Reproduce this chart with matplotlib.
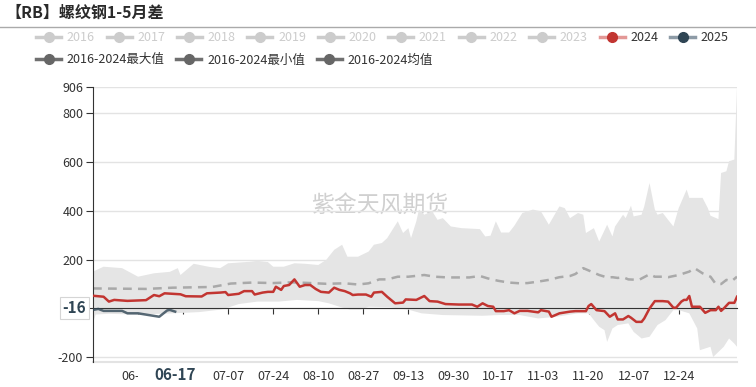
#!/usr/bin/env python3

import pandas as pd
import matplotlib as mp
mp.use('Agg')

from matplotlib import pyplot as plt
from matplotlib.lines import Line2D
from matplotlib.patches import Rectangle


########
# Data #
########

START = '2024-05-17'  # day 0 of the x axis

band_max_days = [0, 4, 11, 17, 23, 29, 32, 33, 38, 44, 48, 51, 55, 59, 62,
                 66, 68, 72, 76, 80, 85, 88, 91, 94, 96, 100, 104, 106, 109,
                 111, 115, 117, 119, 120, 122, 123, 125, 128, 130, 132, 135,
                 139, 146, 148, 150, 152, 154, 157, 159, 162, 166, 169, 172,
                 176, 178, 180, 183, 185, 186, 189, 191, 194, 196, 197, 200,
                 201, 203, 204, 207, 208, 210, 212, 213, 215, 217, 219, 221,
                 224, 225, 230, 232, 233, 236, 237, 239, 240, 242, 243]
band_max = [151, 171, 165, 130, 144, 150, 165, 137, 183, 170, 165, 185, 188,
            191, 195, 190, 171, 171, 185, 183, 178, 199, 240, 261, 212, 212,
            233, 261, 268, 288, 357, 309, 329, 288, 357, 405, 384, 398, 363,
            370, 336, 329, 325, 295, 298, 357, 311, 311, 339, 391, 405, 398,
            343, 418, 411, 370, 391, 384, 309, 329, 274, 343, 295, 336, 384,
            370, 421, 377, 384, 418, 514, 405, 384, 391, 363, 336, 411, 487,
            453, 453, 411, 380, 366, 555, 562, 603, 610, 906]

band_min_days = [0, 1, 6, 17, 30, 40, 48, 50, 55, 62, 70, 77, 85, 89, 93, 97,
                 101, 104, 112, 119, 124, 132, 147, 153, 161, 168, 175, 183,
                 187, 189, 191, 193, 194, 196, 198, 202, 204, 207, 210, 213,
                 216, 219, 221, 225, 228, 229, 233, 234, 236, 238, 240, 242,
                 243]
band_min = [-60, -25, -22, -25, -20, -15, -5, 0, 18, 28, 28, 35, 30, 21, 7,
            -5, -5, 7, 5, -5, -20, -27, -30, -27, -27, -41, -34, -20, -20,
            -48, -75, -89, -137, -82, -68, -61, -96, -123, -116, -68, -48,
            -7, -7, -20, -82, -171, -157, -199, -178, -157, -123, -144, -157]

mean_days = [0, 10, 20, 30, 45, 50, 52, 60, 68, 75, 80, 88, 95, 100, 104, 108,
             111, 115, 119, 125, 129, 134, 142, 146, 149, 153, 157, 161, 164,
             168, 172, 176, 180, 182, 185, 188, 191, 194, 196, 198, 200, 202,
             206, 210, 212, 215, 217, 221, 225, 227, 230, 233, 235, 237, 239,
             241, 243]
mean_vals = [82, 81, 80, 85, 88, 98, 102, 106, 104, 107, 105, 101, 103, 98,
             103, 119, 119, 130, 130, 137, 130, 127, 127, 133, 123, 113, 106,
             103, 104, 110, 117, 128, 133, 141, 165, 151, 137, 127, 128, 125,
             128, 119, 117, 140, 130, 130, 128, 137, 151, 165, 144, 130, 100,
             100, 117, 112, 130]

y2024_days = [0, 4, 6, 8, 13, 20, 23, 25, 27, 33, 35, 41, 43, 48, 50, 51, 55,
              57, 60, 61, 64, 66, 68, 69, 71, 72, 74, 76, 78, 80, 82, 84, 86,
              89, 91, 93, 95, 97, 98, 100, 103, 105, 106, 109, 111, 114, 117,
              118, 122, 125, 127, 130, 133, 138, 143, 145, 147, 149, 151, 152,
              155, 157, 159, 161, 164, 168, 169, 172, 173, 176, 180, 182, 186,
              187, 188, 190, 193, 195, 197, 198, 200, 202, 203, 205, 207, 208,
              210, 212, 215, 217, 219, 220, 222, 223, 224, 225, 226, 229, 231,
              233, 235, 236, 237, 238, 240, 242, 243]
y2024_vals = [52, 48, 28, 35, 31, 34, 55, 50, 62, 58, 50, 49, 62, 65, 67, 55,
              60, 71, 71, 57, 65, 68, 68, 89, 76, 92, 96, 119, 89, 96, 96, 80,
              68, 65, 85, 76, 71, 62, 55, 57, 57, 48, 65, 68, 48, 21, 24, 37,
              35, 51, 30, 28, 18, 16, 16, 7, 21, 10, 7, -11, -11, -7, -20, -10,
              -10, -16, -7, -13, -34, -20, -13, -11, -11, 10, 18, -7, -11, -34,
              -20, -45, -45, -31, -38, -55, -55, -41, 0, 30, 30, 28, 3, 3, 28,
              35, 35, 51, 7, 7, -18, -7, -7, 7, -10, 0, 23, 23, 48]

y2025_days = [0, 2, 4, 11, 13, 17, 21, 25, 28, 29, 31]
y2025_vals = [-6, -2, -10, -10, -20, -20, -27, -34, -8, -6, -13]

tick_days = [17, 34, 51, 68, 85, 102, 119, 136, 153, 170, 187, 204, 221]
y_ticks = [-200, 0, 200, 400, 600, 800, 906]
y_range = (-219, 906)

pointer_day = 31
pointer_value = -16

years_off = ['2016', '2017', '2018', '2019', '2020', '2021', '2022', '2023']
years_on = ['2024', '2025']
stat_names = ['2016-2024最大值', '2016-2024最小值', '2016-2024均值']


##########
# Styles #
##########

W, H = 756, 387

RED = '#c23531'
NAVY = '#2f4554'
TXT = '#333333'
GRID = '#e3e3e3'

plt.rcParams['font.family'] = ['Noto Sans CJK SC', 'DejaVu Sans']
plt.rcParams['axes.unicode_minus'] = False


def day_label(d):
    return (pd.Timestamp(START) + pd.Timedelta(days=d)).strftime('%m-%d')


def legend_handle(line_color, dot_color):
    return Line2D([], [], color=line_color, lw=2.5, marker='o', markersize=7,
                  markerfacecolor=dot_color, markeredgecolor=dot_color)


def fx(px):
    return px / W


def fy(py):
    return 1 - py / H


########
# Plot #
########

fig = plt.figure(figsize=(W / 100, H / 100), dpi=100)

# title and rule under it
fig.text(fx(5), fy(13), '【RB】螺纹钢1-5月差', fontsize=11.5,
         fontweight='bold', color='#2a2a2a', va='center')
fig.add_artist(Line2D([0, 1], [fy(26.5)] * 2, transform=fig.transFigure,
                      color='#aaaaaa', lw=1))

ax = fig.add_axes([fx(93), fy(361.9), fx(644), (361.9 - 87.3) / H])

ax.fill(band_max_days + band_min_days[::-1], band_max + band_min[::-1],
        color='#e5e5e5', lw=0, zorder=1)
ax.plot(mean_days, mean_vals, color='#a9a9a9', lw=1.8,
        dashes=(3.5, 2.5), zorder=2)
ax.plot(y2024_days, y2024_vals, color=RED, lw=1.8, zorder=4)
ax.plot(y2025_days, y2025_vals, color=NAVY, lw=1.8, alpha=0.8, zorder=4)

ax.text(0.445, 0.572, '紫金天风期货', transform=ax.transAxes, fontsize=16.5,
        color='#d0d0d0', ha='center', va='center', zorder=0.5)

ax.set_xlim(0, 243)
ax.set_ylim(*y_range)
ax.set_yticks(y_ticks)
ax.yaxis.grid(True, color=GRID, lw=1)
ax.set_axisbelow(True)
ax.axhline(y_range[0], color=GRID, lw=1.5, clip_on=False, zorder=0.5)

for side in ['top', 'right']:
    ax.spines[side].set_visible(False)
ax.spines['left'].set_color(TXT)
ax.spines['bottom'].set_color(TXT)
ax.spines['bottom'].set_position(('data', 0))
ax.spines['bottom'].set_zorder(3)

ax.tick_params(axis='y', length=5, color=TXT, labelcolor=TXT, labelsize=9,
               pad=2)
ax.set_xticks(tick_days)
ax.tick_params(axis='x', length=4, color=TXT, labelbottom=False)

sec = ax.secondary_xaxis('bottom')
sec.set_xticks(tick_days, labels=[day_label(d) for d in tick_days])
sec.spines['bottom'].set_visible(False)
sec.tick_params(length=0, pad=6, labelsize=9, labelcolor=TXT)

# axis pointer labels, drawn over the tick labels they hide
px_day = 93 + pointer_day * 644 / 243
fig.add_artist(Rectangle((fx(px_day - 37), fy(387)), fx(72), 22 / H,
                         transform=fig.transFigure, fc='white', ec='none',
                         zorder=2))
fig.text(fx(px_day), fy(375), day_label(pointer_day), fontsize=11,
         fontweight='bold', color=NAVY, ha='center', va='center', zorder=3)
fig.text(fx(74.5), fy(308), str(pointer_value), fontsize=11,
         fontweight='bold', color=NAVY, ha='center', va='center', zorder=3,
         bbox=dict(boxstyle='square,pad=0.2', fc='white', ec='#d5d5d5',
                   lw=0.8))

# legends
h1 = [legend_handle('#cccccc', '#cccccc') for _ in years_off]
h1 += [legend_handle('#e39896', RED), legend_handle('#8d9ba6', NAVY)]
leg1 = fig.legend(h1, years_off + years_on, loc='center left',
                  bbox_to_anchor=(fx(36), fy(37.5)), ncol=10, frameon=False,
                  fontsize=9, numpoints=1, handlelength=2.0,
                  handletextpad=0.45, columnspacing=0.95, borderpad=0,
                  borderaxespad=0)
for t, name in zip(leg1.get_texts(), years_off + years_on):
    t.set_color('#cccccc' if name in years_off else TXT)

h2 = [legend_handle('#707070', '#666666') for _ in stat_names]
leg2 = fig.legend(h2, stat_names, loc='center left',
                  bbox_to_anchor=(fx(36), fy(60)), ncol=3, frameon=False,
                  fontsize=9, numpoints=1, handlelength=2.0,
                  handletextpad=0.45, columnspacing=0.95, borderpad=0,
                  borderaxespad=0)
for t in leg2.get_texts():
    t.set_color(TXT)

fig.savefig('out.png', dpi=100)
